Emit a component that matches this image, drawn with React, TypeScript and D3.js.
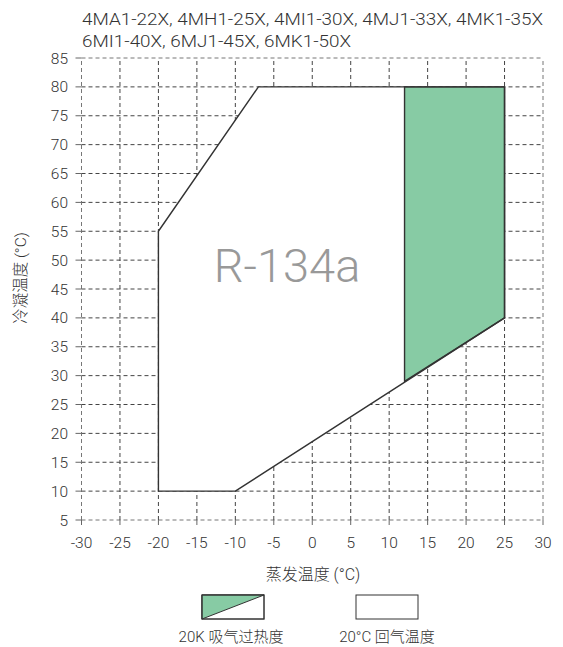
import React from "react";
import * as d3 from "d3";

const titleLines = [
  "4MA1-22X, 4MH1-25X, 4MI1-30X, 4MJ1-33X, 4MK1-35X",
  "6MI1-40X, 6MJ1-45X, 6MK1-50X",
];
const xTicks = [-30, -25, -20, -15, -10, -5, 0, 5, 10, 15, 20, 25, 30];
const yTicks = [5, 10, 15, 20, 25, 30, 35, 40, 45, 50, 55, 60, 65, 70, 75, 80, 85];
const envelopeEvap = [-20, -20, -7, 25, 25, -10];
const envelopeCond = [10, 55, 80, 80, 40, 10];
const superheatEvap = [12, 25, 25, 12];
const superheatCond = [80, 80, 40, 29];
const refrigerant = "R-134a";
const xLabel = "蒸发温度 (°C)";
const yLabel = "冷凝温度 (°C)";
const legendLabels = ["20K 吸气过热度", "20°C 回气温度"];

const W = 563;
const H = 647;
const FONT = "Roboto, 'Noto Sans CJK SC', sans-serif";
const GREEN = "#87cba4";
const titleWidths = [461, 269];

export default function App() {
  const x = d3.scaleLinear().domain([-30, 30]).range([81.5, 543]);
  const y = d3.scaleLinear().domain([5, 85]).range([520, 58]);
  const line = d3.line<[number, number]>().x((d) => x(d[0])).y((d) => y(d[1])).curve(d3.curveLinearClosed);
  const envPts = envelopeEvap.map((e, i) => [e, envelopeCond[i]] as [number, number]);
  const shPts = superheatEvap.map((e, i) => [e, superheatCond[i]] as [number, number]);
  const [x0, x1] = x.range();
  const [y0, y1] = y.range();
  const isEdgeX = (v: number) => v === -30 || v === 30;
  const isEdgeY = (v: number) => v === 5 || v === 85;

  return (
    <svg width={W} height={H} style={{ position: "absolute", left: 0, top: 0, background: "#fff" }} fontFamily={FONT}>
      {titleLines.map((t, i) => (
        <text key={i} x={82} y={24.5 + i * 22} fontSize={16.5} fontWeight={300} fill="#333" textLength={titleWidths[i]} lengthAdjust="spacingAndGlyphs">
          {t}
        </text>
      ))}
      {/* grid */}
      {yTicks.map((v) => (
        <line key={"gy" + v} x1={x0} x2={x1} y1={y(v)} y2={y(v)} stroke={isEdgeY(v) ? "#777" : "#444"} strokeWidth={1} strokeDasharray="4 3" />
      ))}
      {xTicks.map((v) => (
        <line key={"gx" + v} x1={x(v)} x2={x(v)} y1={y0} y2={y1} stroke={isEdgeX(v) ? "#777" : "#444"} strokeWidth={1} strokeDasharray="4 3" />
      ))}
      {/* ticks */}
      {yTicks.map((v) => (
        <line key={"ty" + v} x1={x0 - 6} x2={x0} y1={y(v)} y2={y(v)} stroke="#666" strokeWidth={1} />
      ))}
      {xTicks.map((v) => (
        <line key={"tx" + v} x1={x(v)} x2={x(v)} y1={y0} y2={y0 + 5} stroke="#666" strokeWidth={1} />
      ))}
      {/* envelope */}
      <path d={line(envPts) || ""} fill="#fff" stroke="none" />
      <path d={line(shPts) || ""} fill={GREEN} stroke="#333" strokeWidth={1.4} strokeLinejoin="round" />
      <path d={line(envPts) || ""} fill="none" stroke="#333" strokeWidth={1.4} strokeLinejoin="round" />
      <text x={287} y={282} textAnchor="middle" fontSize={47} fontWeight={300} fill="#999">
        {refrigerant}
      </text>
      {/* tick labels */}
      {yTicks.map((v) => (
        <text key={"ly" + v} x={68} y={y(v) + 5.5} textAnchor="end" fontSize={15.5} fontWeight={300} fill="#333">
          {v}
        </text>
      ))}
      {xTicks.map((v) => (
        <text key={"lx" + v} x={x(v)} y={548} textAnchor="middle" fontSize={15.5} fontWeight={300} fill="#333">
          {v}
        </text>
      ))}
      <text x={313} y={580} textAnchor="middle" fontSize={16} fontWeight={300} fill="#333">
        {xLabel}
      </text>
      <text transform="translate(26,278) rotate(-90)" textAnchor="middle" fontSize={15.5} fontWeight={300} fill="#333">
        {yLabel}
      </text>
      {/* legend */}
      <rect x={202} y={595} width={62} height={24} fill="#fff" stroke="#333" strokeWidth={1} />
      <path d="M202,595 L264,595 L202,619 Z" fill={GREEN} stroke="#333" strokeWidth={1} />
      <rect x={202} y={595} width={62} height={24} fill="none" stroke="#333" strokeWidth={1} />
      <rect x={356} y={595} width={62} height={24} fill="#fff" stroke="#333" strokeWidth={1} />
      <text x={231} y={642} textAnchor="middle" fontSize={15} fontWeight={300} fill="#333">
        {legendLabels[0]}
      </text>
      <text x={387} y={642} textAnchor="middle" fontSize={15} fontWeight={300} fill="#333">
        {legendLabels[1]}
      </text>
    </svg>
  );
}
